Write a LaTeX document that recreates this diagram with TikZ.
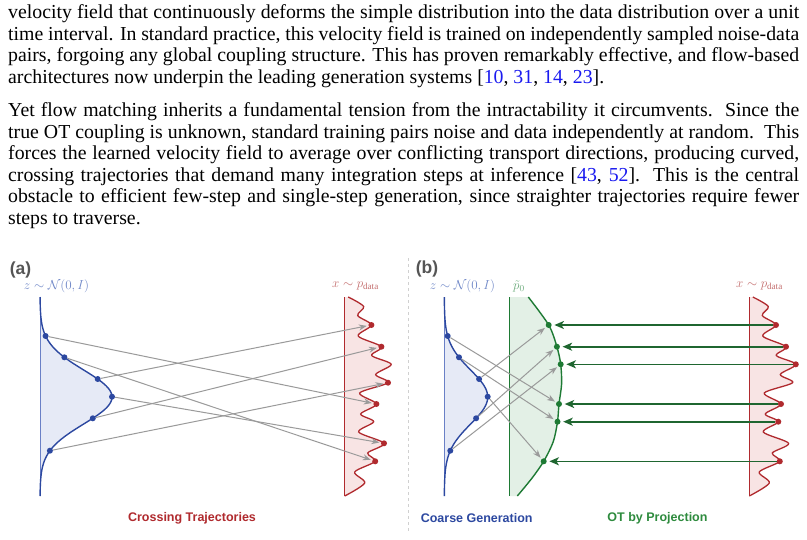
\RequirePackage{fix-cm}
\documentclass[tikz,border=0pt]{standalone}
\usepackage{fontspec}
\setmainfont{Liberation Serif}
\setsansfont{Liberation Sans}
\usetikzlibrary{arrows.meta}
\definecolor{citeblue}{HTML}{1A1AF0}
\definecolor{bluedk}{HTML}{2C48A0}
\definecolor{blueax}{HTML}{6A80C6}
\definecolor{bluefl}{HTML}{E6EAF6}
\definecolor{bluelab}{HTML}{7088C8}
\definecolor{reddk}{HTML}{B02A2E}
\definecolor{redfl}{HTML}{F8E4E4}
\definecolor{redlab}{HTML}{C46E6E}
\definecolor{grndk}{HTML}{1E7A34}
\definecolor{grnarrc}{HTML}{1F6630}
\definecolor{grnfl}{HTML}{E3F0E6}
\definecolor{grnlab}{HTML}{6AAA7A}
\definecolor{grncap}{HTML}{2E8B3E}
\definecolor{arrgray}{HTML}{9A9A9A}
\definecolor{labgray}{HTML}{555555}
\definecolor{sepgray}{HTML}{D0D0D0}
\newcommand{\cit}[1]{\textcolor{citeblue}{#1}}
\begin{document}
\begin{tikzpicture}[x=1pt,y=-1pt,
  txt/.style={anchor=base west, inner sep=0pt, font=\fontsize{19.8}{21.6}\selectfont},
  panel/.style={font=\sffamily\bfseries\fontsize{17.5}{20}\selectfont, text=labgray, inner sep=0pt},
  mlab/.style={font=\fontsize{13}{15}\selectfont, inner sep=0pt},
  caplab/.style={font=\sffamily\bfseries\fontsize{12.5}{15}\selectfont, inner sep=0pt},
  bdot/.style={circle, fill=bluedk, inner sep=0pt, minimum size=6pt},
  rdot/.style={circle, fill=reddk, inner sep=0pt, minimum size=6pt},
  gdot/.style={circle, fill=grndk, inner sep=0pt, minimum size=6pt},
  grayarr/.style={draw=arrgray, line width=1pt, -{Stealth[length=8pt,width=6pt]}, shorten >=1.5pt},
  grnarr/.style={draw=grnarrc, line width=1.6pt, -{Stealth[length=9.5pt,width=8pt,inset=2.5pt]}, shorten >=2.5pt},
  bcurve/.style={draw=bluedk, line width=1.4pt},
  rcurve/.style={draw=reddk, line width=1.3pt},
  gcurve/.style={draw=grndk, line width=1.4pt},
  baxis/.style={draw=blueax, line width=1pt},
  raxis/.style={draw=reddk, line width=1pt},
  gaxis/.style={draw=grndk, line width=1pt},
  sepline/.style={draw=sepgray, line width=1pt, dash pattern=on 3pt off 3pt}
]
\useasboundingbox (0,0) rectangle (807,539);
\fill[white] (0,0) rectangle (807,539);

% ---------- text ----------
\node[txt] (p1l1) at (8,18.5) {\makebox[791pt][s]{velocity field that continuously deforms the simple distribution into the data distribution over a unit}};
\node[txt] (p1l2) at (8,40.1) {\makebox[791pt][s]{time interval. In standard practice, this velocity field is trained on independently sampled noise-data}};
\node[txt] (p1l3) at (8,61.7) {\makebox[791pt][s]{pairs, forgoing any global coupling structure. This has proven remarkably effective, and flow-based}};
\node[txt] (p1l4) at (8,83.3) {architectures now underpin the leading generation systems [\cit{10}, \cit{31}, \cit{14}, \cit{23}].};
\node[txt] (p2l1) at (8,116.5) {\makebox[791pt][s]{Yet flow matching inherits a fundamental tension from the intractability it circumvents.\ \ Since the}};
\node[txt] (p2l2) at (8,138.1) {\makebox[791pt][s]{true OT coupling is unknown, standard training pairs noise and data independently at random.\ \ This}};
\node[txt] (p2l3) at (8,159.7) {\makebox[791pt][s]{forces the learned velocity field to average over conflicting transport directions, producing curved,}};
\node[txt] (p2l4) at (8,181.3) {\makebox[791pt][s]{crossing trajectories that demand many integration steps at inference [\cit{43}, \cit{52}].\ \ This is the central}};
\node[txt] (p2l5) at (8,202.9) {\makebox[791pt][s]{obstacle to efficient few-step and single-step generation, since straighter trajectories require fewer}};
\node[txt] (p2l6) at (8,224.5) {steps to traverse.};

% ---------- separator ----------
\draw[sepline] (408,258) -- (408,533);

% ---------- panel labels ----------
\node[panel] (lab-a) at (20.5,270) {(a)};
\node[panel] (lab-b) at (427,269) {(b)};
\node[mlab, text=bluelab] (za) at (56.5,286) {$z\sim\mathcal{N}(0,I)$};
\node[mlab, text=redlab] (xa) at (355.5,286) {$x\sim p_{\mathrm{data}}$};
\node[mlab, text=bluelab] (zb) at (462.5,286) {$z\sim\mathcal{N}(0,I)$};
\node[mlab, text=grnlab] (pb) at (519,286) {$\tilde{p}_0$};
\node[mlab, text=redlab] (xb) at (759.5,286) {$x\sim p_{\mathrm{data}}$};
\node[caplab, text=reddk] (capa) at (192,518) {Crossing Trajectories};
\node[caplab, text=bluedk] (capb1) at (476.7,518) {Coarse Generation};
\node[caplab, text=grncap] (capb2) at (657.5,518) {OT by Projection};

% ---------- panel (a): gaussian ----------
\fill[bluefl] (40,297) -- plot[domain=297:496,samples=120] ({40+72*exp(-((\x-397)*(\x-397))/1458)},\x) -- (40,496) -- cycle;
\draw[baxis] (40,297) -- (40,496);
\draw[bcurve] plot[domain=297:496,samples=120] ({40+72*exp(-((\x-397)*(\x-397))/1458)},\x);

% ---------- panel (a): data ----------
\begin{scope}[xshift=344.7pt]
\fill[redfl] (0,297) -- plot[smooth] coordinates {(3.5,297) (19,306.5) (13,315.5) (26.7,325) (13.5,336) (36.7,346.7) (27,355.5) (46.5,364.3) (31,374.5) (43.3,382.7) (15,393) (31.7,404) (16,414) (29,421.7) (14,432) (39.3,443.3) (23,453) (30.5,461.3) (10,472) (20,483) (0,496)} -- cycle;
\draw[raxis] (0,297) -- (0,496);
\draw[rcurve] plot[smooth] coordinates {(3.5,297) (19,306.5) (13,315.5) (26.7,325) (13.5,336) (36.7,346.7) (27,355.5) (46.5,364.3) (31,374.5) (43.3,382.7) (15,393) (31.7,404) (16,414) (29,421.7) (14,432) (39.3,443.3) (23,453) (30.5,461.3) (10,472) (20,483) (0,496)};
\node[rdot] (ra1) at (26.7,325) {};
\node[rdot] (ra2) at (36.7,346.7) {};
\node[rdot] (ra3) at (43.3,382.7) {};
\node[rdot] (ra4) at (31.7,404) {};
\node[rdot] (ra5) at (39.3,443.3) {};
\node[rdot] (ra6) at (30.5,461.3) {};
\end{scope}

\node[bdot] (la1) at (45.6,336) {};
\node[bdot] (la2) at (64.4,357.3) {};
\node[bdot] (la3) at (97.7,379) {};
\node[bdot] (la4) at (112,396.7) {};
\node[bdot] (la5) at (92.8,418.3) {};
\node[bdot] (la6) at (49.9,450.7) {};

\draw[grayarr] (la1) -- (ra4);
\draw[grayarr] (la2) -- (ra6);
\draw[grayarr] (la3) -- (ra1);
\draw[grayarr] (la4) -- (ra5);
\draw[grayarr] (la5) -- (ra2);
\draw[grayarr] (la6) -- (ra3);

% ---------- panel (b): gaussian ----------
\fill[bluefl] (444.3,297) -- plot[domain=297:496,samples=120] ({444.3+43.4*exp(-((\x-397)*(\x-397))/1458)},\x) -- (444.3,496) -- cycle;
\draw[baxis] (444.3,297) -- (444.3,496);
\draw[bcurve] plot[domain=297:496,samples=120] ({444.3+43.4*exp(-((\x-397)*(\x-397))/1458)},\x);

% ---------- panel (b): coarse distribution ----------
\fill[grnfl] (509.3,297) -- plot[smooth] coordinates {(528.3,297) (548.7,325) (556.9,346.7) (560.7,364.3) (561.6,384) (559,404) (557.5,421.7) (553.3,441.5) (543.7,461.3) (531.7,478.5) (517.3,496)} -- (509.3,496) -- cycle;
\draw[gaxis] (509.3,297) -- (509.3,496);
\draw[gcurve] plot[smooth] coordinates {(528.3,297) (548.7,325) (556.9,346.7) (560.7,364.3) (561.6,384) (559,404) (557.5,421.7) (553.3,441.5) (543.7,461.3) (531.7,478.5) (517.3,496)};

% ---------- panel (b): data ----------
\begin{scope}[xshift=749.3pt]
\fill[redfl] (0,297) -- plot[smooth] coordinates {(3.5,297) (19,306.5) (13,315.5) (26.7,325) (13.5,336) (36.7,346.7) (27,355.5) (46.5,364.3) (31,374.5) (43.3,382.7) (15,393) (31.7,404) (16,414) (29,421.7) (14,432) (39.3,443.3) (23,453) (30.5,461.3) (10,472) (20,483) (0,496)} -- cycle;
\draw[raxis] (0,297) -- (0,496);
\draw[rcurve] plot[smooth] coordinates {(3.5,297) (19,306.5) (13,315.5) (26.7,325) (13.5,336) (36.7,346.7) (27,355.5) (46.5,364.3) (31,374.5) (43.3,382.7) (15,393) (31.7,404) (16,414) (29,421.7) (14,432) (39.3,443.3) (23,453) (30.5,461.3) (10,472) (20,483) (0,496)};
\node[rdot] (rb1) at (26.7,325) {};
\node[rdot] (rb2) at (36.7,346.7) {};
\node[rdot] (rb3) at (46.5,364.3) {};
\node[rdot] (rb4) at (31.7,404) {};
\node[rdot] (rb5) at (29,421.7) {};
\node[rdot] (rb6) at (30.5,461.3) {};
\end{scope}

\node[gdot] (gb1) at (548.7,325) {};
\node[gdot] (gb2) at (556.9,346.7) {};
\node[gdot] (gb3) at (560.7,364.3) {};
\node[gdot] (gb4) at (559,404) {};
\node[gdot] (gb5) at (557.5,421.7) {};
\node[gdot] (gb6) at (543.7,461.3) {};

\node[bdot] (lb1) at (447.7,336) {};
\node[bdot] (lb2) at (459.0,357.3) {};
\node[bdot] (lb3) at (479.1,379) {};
\node[bdot] (lb4) at (487.7,396.7) {};
\node[bdot] (lb5) at (476.1,418.3) {};
\node[bdot] (lb6) at (450.3,450.7) {};

\draw[grayarr] (lb1) -- (gb4);
\draw[grayarr] (lb2) -- (gb5);
\draw[grayarr] (lb3) -- (gb1);
\draw[grayarr] (lb4) -- (gb6);
\draw[grayarr] (lb5) -- (gb2);
\draw[grayarr] (lb6) -- (gb3);

\draw[grnarr] (rb1) -- (gb1);
\draw[grnarr] (rb2) -- (gb2);
\draw[grnarr] (rb3) -- (gb3);
\draw[grnarr] (rb4) -- (gb4);
\draw[grnarr] (rb5) -- (gb5);
\draw[grnarr] (rb6) -- (gb6);
\end{tikzpicture}
\end{document}
